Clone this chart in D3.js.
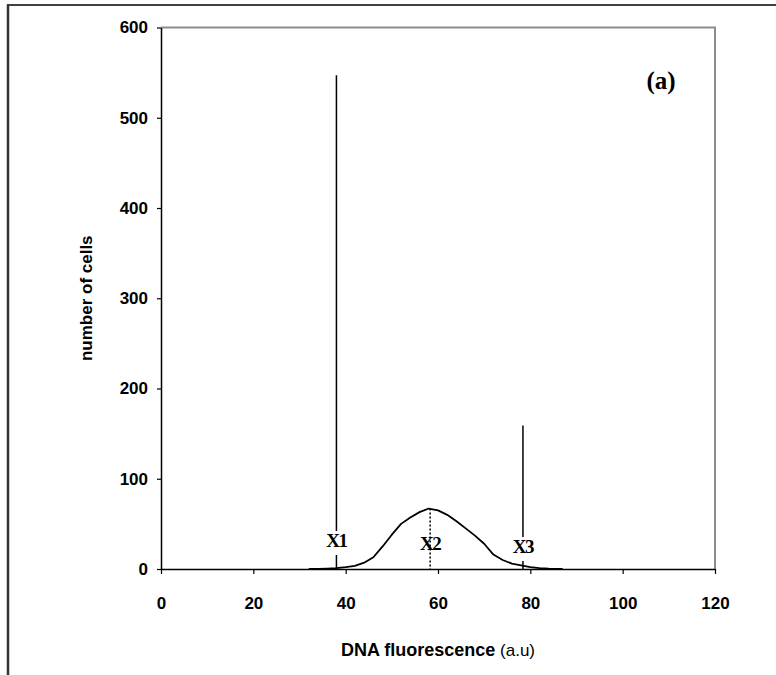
<!DOCTYPE html>
<html>
<head>
<meta charset="utf-8">
<script src="https://cdn.jsdelivr.net/npm/d3@7"></script>
<style>
  body { margin: 0; background: #fff; }
  .tick text { font-family: "Liberation Sans", Arial, sans-serif; font-weight: bold; font-size: 17px; fill: #000; }
</style>
</head>
<body>
<div id="chart"></div>
<script>
// histogram data (DNA fluorescence vs number of cells)
var fluo = [32, 34, 36, 38, 40, 42, 44, 46, 48, 50, 52, 54, 56, 58, 60, 62, 64, 66, 68, 70, 72, 74, 76, 78, 80, 82, 84, 86, 87];
var cells = [0, 0.2, 0.5, 1, 2, 3.5, 7, 13, 25, 38, 50, 57, 63, 67, 65, 60, 53, 45, 37, 28, 16, 10, 6, 4, 2, 1, 0.4, 0.1, 0];

// marker lines
var markerNames = ["X1", "X2", "X3"];
var markerX = [38, 58.3, 78.4];
var markerTop = [547, 67, 159];

var xTicks = [0, 20, 40, 60, 80, 100, 120];
var yTicks = [0, 100, 200, 300, 400, 500, 600];

var svgWidth = 776;
var svgHeight = 675;

var margin = { top: 27.5, right: 61, bottom: 106, left: 161 };
var width = svgWidth - margin.left - margin.right;
var height = svgHeight - margin.top - margin.bottom;

var svg = d3.select("#chart").append("svg")
  .attr("width", svgWidth)
  .attr("height", svgHeight);

// outer frame (top and left only)
svg.append("line")
  .attr("x1", 7).attr("x2", 776).attr("y1", 5).attr("y2", 5)
  .attr("stroke", "#000").attr("stroke-width", 1.5);
svg.append("line")
  .attr("x1", 8).attr("x2", 8).attr("y1", 4.5).attr("y2", 675)
  .attr("stroke", "#333").attr("stroke-width", 2.5);

var chartGroup = svg.append("g")
  .attr("transform", `translate(${margin.left}, ${margin.top})`);

var x = d3.scaleLinear().domain([0, 120]).range([0, width]);
var y = d3.scaleLinear().domain([0, 600]).range([height, 0]);

// grey plot border on top and right
chartGroup.append("path")
  .attr("d", `M0,0H${width}V${height}`)
  .attr("fill", "none")
  .attr("stroke", "#8c8c8c")
  .attr("stroke-width", 2);

// axes
var xAxis = chartGroup.append("g")
  .attr("transform", `translate(0, ${height})`)
  .call(d3.axisBottom(x).tickValues(xTicks).tickSize(5).tickPadding(23).tickSizeOuter(0));
var yAxis = chartGroup.append("g")
  .call(d3.axisLeft(y).tickValues(yTicks).tickSize(4).tickPadding(9).tickSizeOuter(0));

[xAxis, yAxis].forEach(function(a) {
  a.select(".domain").attr("stroke", "#000").attr("stroke-width", 1.5);
  a.selectAll(".tick line").attr("stroke", "#000").attr("stroke-width", 1.2);
});

// curve
var line = d3.line()
  .x(function(d, i) { return x(fluo[i]); })
  .y(function(d) { return y(d); });

chartGroup.append("path")
  .datum(cells)
  .attr("d", line)
  .attr("fill", "none")
  .attr("stroke", "#000")
  .attr("stroke-width", 1.8)
  .attr("stroke-linejoin", "round");

// marker lines with labels
markerNames.forEach(function(name, i) {
  var mx = x(markerX[i]);
  chartGroup.append("line")
    .attr("x1", mx).attr("x2", mx)
    .attr("y1", y(markerTop[i])).attr("y2", y(0))
    .attr("stroke", "#000")
    .attr("stroke-width", 1.5)
    .attr("stroke-dasharray", i === 1 ? "2,2" : null);

  var labelY = y(0) - 22 + i * 3;
  if (i !== 1) {
    chartGroup.append("rect")
      .attr("x", mx - 13).attr("y", labelY - 16)
      .attr("width", 26).attr("height", 24)
      .attr("fill", "#fff");
  }
  chartGroup.append("text")
    .attr("x", mx)
    .attr("y", labelY)
    .attr("text-anchor", "middle")
    .attr("font-family", "'Liberation Serif', 'Times New Roman', serif")
    .attr("font-weight", "bold")
    .attr("font-size", "19px")
    .attr("letter-spacing", "-1.5px")
    .text(name);
});

// panel label
chartGroup.append("text")
  .attr("x", 500)
  .attr("y", 61)
  .attr("text-anchor", "middle")
  .attr("font-family", "'Liberation Serif', 'Times New Roman', serif")
  .attr("font-weight", "bold")
  .attr("font-size", "25px")
  .text("(a)");

// axis titles
var xTitle = chartGroup.append("text")
  .attr("x", width / 2)
  .attr("y", height + 87)
  .attr("text-anchor", "middle")
  .attr("font-family", "'Liberation Sans', Arial, sans-serif")
  .attr("font-size", "18px");
xTitle.append("tspan").attr("font-weight", "bold").text("DNA fluorescence");
xTitle.append("tspan").attr("font-size", "17px").text(" (a.u)");

chartGroup.append("text")
  .attr("transform", `translate(${-69}, ${height / 2}) rotate(-90)`)
  .attr("text-anchor", "middle")
  .attr("font-family", "'Liberation Sans', Arial, sans-serif")
  .attr("font-weight", "bold")
  .attr("font-size", "17px")
  .text("number of cells");
</script>
</body>
</html>
